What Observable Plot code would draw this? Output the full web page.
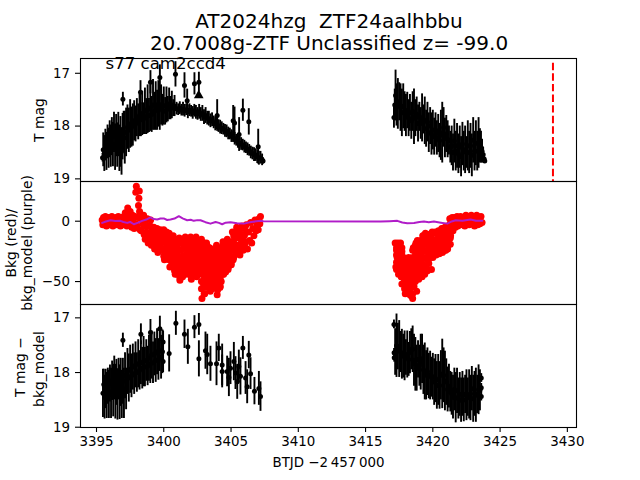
<!DOCTYPE html>
<html>
<head>
<meta charset="utf-8">
<script src="https://cdn.jsdelivr.net/npm/d3@7"></script>
<script src="https://cdn.jsdelivr.net/npm/@observablehq/plot@0.6"></script>
<style>
html,body{margin:0;padding:0;background:#fff;width:640px;height:480px;overflow:hidden;font-family:"DejaVu Sans",sans-serif}
#title{height:58px;width:640px;position:relative}
#title div{position:absolute;left:9px;width:640px;text-align:center;font-size:20px;line-height:20px;color:#000;white-space:pre}
svg{overflow:visible;background:transparent!important;display:block}
</style>
</head>
<body>
<div id="title"><div style="top:11px">AT2024hzg  ZTF24aalhbbu</div><div style="top:33px">20.7008g-ZTF Unclassified z= -99.0</div></div>
<div id="chart"></div>
<script>
const titleLabel = "s77 cam2ccd4";
const xTicks = [3395,3400,3405,3410,3415,3420,3425,3430];
const markerTime = 3428.93;

// top panel: T mag, first orbit and outliers
const magT = [
3395.45,3395.50,3395.58,3395.66,3395.74,3395.82,3395.90,3395.98,3396.06,3396.14,3396.22,3396.30,3396.38,3396.46,3396.54,3396.62,3396.70,3396.78,3396.86,3396.94,
3397.02,3397.10,3397.20,3397.30,3397.40,3397.50,3397.60,3397.70,3397.80,3397.90,3398.00,3398.10,3398.20,3398.30,3398.40,3398.50,3398.60,3398.70,3398.80,3398.90,
3399.00,3399.10,3399.20,3399.30,3399.40,3399.50,3399.60,3399.70,3399.80,3399.90,3400.00,3400.10,3400.20,3400.30,3400.40,3400.50,3400.60,3400.70,3400.80,
3400.95,3401.07,3401.19,3401.31,3401.43,3401.55,3401.67,3401.79,3401.91,3402.03,3402.15,3402.27,3402.39,3402.51,3402.63,3402.75,3402.87,3402.99,3403.11,3403.23,3403.35,
3403.47,3403.59,3403.71,3403.83,3403.95,3404.07,3404.19,3404.31,3404.43,3404.55,3404.67,3404.79,3404.91,3405.03,3405.15,3405.27,3405.39,3405.51,3405.63,3405.75,
3405.87,3405.99,3406.11,3406.23,3406.35,3406.47,3406.59,3406.71,3406.83,3406.95,3407.07,3407.19,3407.31,3407.38,
3396.96,3398.27,3399.01,3399.71,3400.87,3401.54,3401.74,3402.28,3402.61,3403.97,3405.16,3405.26,3405.60,3405.88,3406.32,3407.02,3417.11
];
const magV = [
18.60,18.45,18.52,18.36,18.48,18.30,18.42,18.25,18.38,18.20,18.35,18.12,18.40,18.18,18.36,18.16,18.42,18.30,18.48,18.20,
18.10,18.22,18.12,18.02,18.08,17.96,18.02,17.98,17.90,17.96,17.84,17.92,17.80,17.88,17.76,17.86,17.72,17.82,17.68,17.80,
17.66,17.78,17.60,17.72,17.62,17.70,17.58,17.66,17.60,17.70,17.62,17.72,17.60,17.68,17.58,17.66,17.60,17.66,17.62,
17.67,17.69,17.66,17.70,17.68,17.71,17.69,17.73,17.70,17.72,17.75,17.71,17.74,17.77,17.73,17.78,17.76,17.83,17.80,17.85,17.86,
17.90,17.88,17.93,17.96,17.95,18.00,18.02,18.04,18.06,18.09,18.10,18.14,18.15,18.19,18.20,18.24,18.27,18.30,18.32,18.34,
18.36,18.39,18.41,18.44,18.46,18.50,18.52,18.54,18.55,18.58,18.61,18.60,18.64,18.66,
17.49,17.36,17.17,17.08,17.02,17.23,17.52,17.20,17.17,17.80,17.90,17.94,18.16,17.70,17.92,18.39,17.84
];
const magE = [
0.08,0.32,0.34,0.30,0.36,0.32,0.38,0.35,0.40,0.36,0.42,0.38,0.44,0.40,0.42,0.42,0.44,0.48,0.45,0.44,
0.38,0.50,0.46,0.42,0.42,0.46,0.38,0.40,0.38,0.34,0.36,0.34,0.40,0.32,0.42,0.30,0.44,0.34,0.46,0.32,
0.44,0.34,0.48,0.36,0.46,0.38,0.44,0.42,0.38,0.30,0.36,0.26,0.34,0.24,0.30,0.22,0.26,0.16,0.20,
0.12,0.11,0.12,0.11,0.13,0.12,0.11,0.13,0.12,0.11,0.12,0.12,0.13,0.12,0.14,0.13,0.15,0.14,0.15,0.13,0.14,
0.13,0.13,0.12,0.13,0.12,0.12,0.13,0.12,0.11,0.12,0.12,0.12,0.11,0.12,0.11,0.12,0.11,0.12,0.11,0.12,
0.11,0.12,0.11,0.12,0.11,0.12,0.12,0.13,0.12,0.13,0.13,0.12,0.11,0.06,
0.13,0.22,0.22,0.24,0.24,0.24,0.22,0.21,0.19,0.30,0.29,0.30,0.32,0.21,0.25,0.33,0.20
];
// top panel, second orbit: time, bright and faint end of each error bar
const mag2T = [
3417.17,3417.23,3417.30,3417.40,3417.50,3417.60,3417.70,3417.80,3417.90,3418.00,3418.10,3418.20,3418.30,3418.40,3418.50,3418.60,3418.70,3418.80,3418.90,
3419.00,3419.10,3419.20,3419.30,3419.40,3419.50,3419.60,3419.70,3419.80,3419.90,3420.00,3420.10,3420.20,3420.30,3420.40,3420.50,3420.60,3420.70,3420.80,3420.90,
3421.00,3421.10,3421.20,3421.30,3421.40,3421.50,3421.60,3421.70,3421.80,3421.90,3422.00,3422.10,3422.20,3422.30,3422.40,3422.50,3422.60,3422.70,3422.80,3422.90,
3423.00,3423.10,3423.20,3423.30,3423.40,3423.50,3423.58,3423.66,3423.74,3423.82,3423.86
];
const mag2Top = [
17.30,16.94,17.20,17.10,17.18,17.20,17.30,17.20,17.35,17.40,17.36,17.50,17.40,17.55,17.35,17.30,17.50,17.45,17.60,
17.55,17.65,17.39,17.60,17.45,17.70,17.55,17.75,17.65,17.75,17.70,17.85,17.75,17.90,17.78,17.95,17.70,17.55,17.65,17.85,
17.80,17.90,18.00,18.10,18.00,18.15,17.87,18.10,17.95,18.15,18.00,18.20,17.93,18.10,18.00,18.20,17.90,18.10,17.95,18.15,
17.84,18.10,17.90,18.10,17.84,18.05,18.10,18.25,18.40,18.55,18.62
];
const mag2Bot = [
17.90,17.90,18.00,18.06,17.90,18.10,18.20,18.05,18.10,18.20,18.05,18.20,18.10,18.25,18.10,18.35,18.20,18.10,18.30,
18.10,18.25,18.30,18.15,18.35,18.40,18.30,18.50,18.35,18.55,18.45,18.55,18.40,18.55,18.50,18.60,18.65,18.70,18.40,18.60,
18.50,18.60,18.55,18.70,18.75,18.85,18.70,18.85,18.80,18.90,18.80,18.96,18.75,18.85,18.90,18.80,18.85,18.90,18.80,18.96,
18.70,18.85,18.75,18.85,18.80,18.70,18.70,18.70,18.68,18.70,18.70
];
const triangleT = [3402.6];
const triangleV = [17.42];

// middle panel: background (red) and background model (purple)
const bkgT = [
3395.42,3395.47,3395.52,3395.60,3395.66,3395.74,3395.82,3395.90,3395.98,3396.06,3396.14,3396.22,3396.30,3396.38,3396.46,3396.54,3396.62,3396.70,3396.78,3396.86,3396.94,
3397.02,3397.08,3397.14,3397.20,3397.26,3397.32,3397.38,3397.44,3397.50,3397.56,3397.62,3397.68,3397.74,3397.80,3397.86,3397.90,3397.92,3397.96,3398.02,3398.08,3398.12,3398.15,3398.18,3398.20,3398.24,3398.28,3398.32,3398.38,3398.44,
3398.50,3398.54,3398.58,3398.62,3398.66,3398.72,3398.78,3398.84,3398.90,3398.96,3399.02,3399.08,3399.14,3399.20,3399.26,3399.32,3399.38,3399.44,3399.50,3399.56,3399.62,3399.68,3399.74,3399.80,3399.86,
3400.00,3400.05,3400.10,3400.15,3400.20,3400.25,3400.30,3400.40,3400.45,3400.50,3400.55,3400.60,3400.65,3400.70,3400.80,3400.85,3400.90,3400.95,3401.00,3401.05,3401.10,3401.15,3401.20,3401.25,3401.30,3401.35,3401.40,3401.45,3401.50,
3401.60,3401.65,3401.70,3401.75,3401.80,3401.85,3401.90,3402.00,3402.05,3402.10,3402.15,3402.20,3402.25,3402.30,3402.40,3402.45,3402.50,3402.55,3402.60,3402.65,3402.70,
3402.80,3402.84,3402.88,3402.92,3402.96,3403.00,3403.04,3403.08,3403.12,3403.18,3403.22,3403.26,3403.30,3403.34,3403.38,3403.42,3403.46,
3403.55,3403.60,3403.65,3403.70,3403.75,3403.80,3403.85,3403.92,3403.97,3404.02,3404.07,3404.12,3404.17,3404.22,3404.27,3404.32,
3404.40,3404.45,3404.50,3404.55,3404.60,3404.65,3404.72,3404.78,3404.84,3404.90,3404.96,3405.02,3405.10,3405.16,3405.22,3405.28,3405.34,
3405.42,3405.50,3405.58,3405.66,3405.74,3405.82,3405.90,3405.98,3406.06,3406.14,3406.22,3406.30,3406.38,3406.46,3406.54,3406.62,3406.70,3406.78,3406.86,3406.94,3407.02,3407.08,3407.14,3407.19,
3417.20,3417.25,3417.30,3417.35,3417.40,3417.45,3417.50,3417.55,3417.60,3417.65,3417.70,3417.75,3417.80,3417.85,3417.90,3417.95,3418.00,3418.05,3418.10,3418.15,3418.20,3418.25,3418.30,3418.35,3418.40,3418.45,3418.50,3418.55,3418.60,3418.65,3418.70,3418.75,
3418.80,3418.85,3418.90,3418.95,3419.00,3419.05,3419.10,3419.15,3419.20,3419.25,3419.30,3419.35,3419.40,3419.45,3419.50,3419.55,3419.60,3419.65,3419.70,3419.75,3419.80,3419.85,3419.90,3419.95,3420.00,3420.06,3420.12,3420.18,3420.24,3420.30,3420.36,3420.42,3420.48,3420.54,3420.60,3420.66,3420.72,3420.78,3420.84,3420.90,3420.96,3421.02,3421.08,3421.14,3421.20,3421.26,3421.32,3421.38,3421.44,3421.50,3421.56,3421.62,3421.68,3421.74,3421.80,3421.86,3421.92,3421.98,
3422.06,3422.14,3422.22,3422.30,3422.38,3422.46,3422.54,3422.62,3422.70,3422.78,3422.86,3422.94,3423.02,3423.10,3423.18,3423.26,3423.34,3423.42,3423.50,3423.58,3423.66,3423.74,3423.82
];
const bkgV = [
1,-3,3,-1,4,-4,1,3,-3,-1,4,-4,2,-2,3,-3,4,0,-4,2,-3,
4,-2,7,1,-4,11,5,-3,8,2,-5,5,-1,-6,4,-2,24,29,-4,3,13,19,25,8,-7,2,-8,5,-2,
5,-11,-4,-15,1,-9,2,-18,-4,-12,1,-20,-8,-14,-5,-23,-10,-17,-6,-26,-13,-19,-7,-24,-15,
-7,-32,-14,-24,-9,-20,-29,-10,-38,-16,-30,-22,-35,-12,-15,-44,-25,-36,-19,-30,-42,-14,-49,-24,-35,-43,-18,-30,-40,
-13,-44,-22,-36,-28,-17,-40,-13,-48,-25,-38,-18,-32,-44,-13,-46,-24,-36,-17,-30,-42,
-15,-64,-25,-40,-52,-20,-60,-33,-47,-18,-55,-28,-42,-22,-50,-35,-58,
-23,-56,-32,-47,-27,-40,-52,-20,-61,-30,-45,-25,-55,-36,-50,-42,
-17,-44,-26,-36,-21,-40,-15,-40,-24,-32,-18,-36,-9,-32,-20,-14,-26,
-5,-22,-10,-28,-15,-4,-24,-12,-18,-3,-23,-9,-16,-1,-18,-6,-12,1,-8,-3,-7,2,-2,4,
-18,-38,-24,-30,-18,-44,-28,-36,-18,-46,-25,-35,-30,-42,-50,-60,-32,-55,-42,-48,-30,-60,-38,-50,-62,-44,-64,-22,-54,-34,-46,-18,
-58,-16,-36,-48,-26,-42,-20,-32,-46,-12,-38,-24,-44,-10,-30,-18,-41,-11,-35,-22,-28,-14,-40,-9,-30,-18,-24,-9,-28,-15,-21,-8,-27,-14,-20,-6,-26,-12,-18,-5,-24,-14,-4,-20,-10,2,-12,-5,3,-8,-2,3,-5,1,4,-4,
2,-3,4,0,-3,3,-4,5,-1,4,-3,2,5,-2,4,-4,1,5,-3,3,-2,4,-1
];
// further background samples, listed per cadence: time, then the values read at that time
const bkgExtraT = [
3399.0,3399.2,3399.4,3399.6,3399.8,3400.0,3400.2,3400.4,3400.6,3400.8,3401.0,3401.2,3401.4,3401.6,3401.8,3402.0,3402.2,3402.4,3402.6,3402.8,3403.0,3403.2,3403.4,3403.6,3403.8,3404.0,3404.2,3404.4,3404.6,3404.8,3405.0,3405.2,3405.4,3405.6,3405.8,3406.0,
3417.3,3417.5,3417.7,3417.9,3418.1,3418.3,3418.5,3418.7,3418.9,3419.1,3419.3,3419.5,3419.7,3419.9,3420.1,3420.3,3420.5,3420.7,3420.9,3421.1,3421.3
];
const bkgExtraV = [
[-4,-10,-16],[-8,-14,-20],[-9,-15,-21],[-10,-16,-22],[-12,-18,-24],[-11,-17,-23,-29],[-13,-19,-25,-31],[-14,-20,-26,-32],[-17,-23,-29,-35],[-18,-24,-30,-36,-41],[-20,-26,-32,-38,-44],
[-18,-24,-30,-36,-42,-47],[-17,-23,-29,-35,-41,-46],[-16,-22,-28,-34,-40],[-18,-24,-30,-36,-42],[-16,-22,-28,-34,-40,-45],[-19,-25,-31,-37,-43],[-16,-22,-28,-34,-40,-44],[-18,-24,-30,-36,-42],
[-20,-26,-32,-38,-44,-50,-56],[-18,-24,-30,-36,-42,-48,-54,-60],[-20,-26,-32,-38,-44,-50],[-22,-28,-34,-40,-46,-52],[-26,-32,-38,-44,-50],[-24,-30,-36,-42,-48,-54],[-22,-28,-34,-40,-46,-52,-57],[-24,-30,-36,-42,-48,-54],
[-20,-26,-32,-38,-44],[-18,-24,-30,-36,-42],[-20,-26,-32,-38],[-17,-23,-29,-35],[-12,-18,-24,-30],[-8,-14,-20,-26],[-8,-14,-20,-24],[-6,-12,-18,-23],[-6,-11,-17,-22],
[-22,-28,-34,-40],[-20,-26,-32,-38,-43],[-22,-28,-34,-40,-46,-52],[-32,-38,-44,-50,-56],[-34,-40,-46,-52,-58],[-32,-38,-44,-50,-56,-61],[-24,-30,-36,-42,-48,-54,-60],[-20,-26,-32,-38,-44,-50],[-18,-24,-30,-36,-42,-47],
[-16,-22,-28,-34,-40],[-12,-18,-24,-30,-36,-41],[-13,-19,-25,-31,-37],[-13,-19,-25,-31],[-11,-17,-23,-29],[-10,-16,-22,-28],[-10,-16,-22,-27],[-9,-15,-21,-26],[-8,-14,-20,-25],[-7,-13,-19,-24],[-6,-12,-18,-23],[-2,-8,-14,-19]
];
const modelT = [3395.42,3395.7,3396.04,3396.4,3396.78,3397.0,3397.28,3397.5,3397.77,3398.1,3398.39,3398.7,3399.01,3399.25,3399.51,3399.75,3400.00,3400.25,3400.50,3400.8,3401.12,3401.4,3401.74,3402.0,3402.23,3402.5,3402.73,3403.1,3403.47,3403.85,3404.1,3404.34,3404.6,3404.96,3405.45,3405.95,3406.5,3407.19,3407.40,3416.12,3416.8,3417.36,3417.73,3418.1,3418.60,3419.0,3419.34,3419.7,3420.08,3420.6,3421.08,3421.4,3421.70,3422.2,3422.81,3423.2,3423.68];
const modelV = [-1.4,-0.2,0.8,0.2,0.3,-0.6,-1.4,-0.6,-2.5,-1.2,0.3,1.4,3.1,1.8,1.4,2.2,2.3,1.0,1.4,2.2,4.2,2.4,0.8,1.2,0.3,0.9,0.8,-0.8,-2,-0.6,-1.4,-2.5,-1.2,-0.8,-1.6,-2,-0.6,0.3,0,-0.3,0,0.3,-1.1,-1.6,-1.4,-0.7,-0.3,-0.8,-0.3,-1.2,-2,-0.2,0.8,0.3,1.4,0.4,0.3];

// bottom panel: T mag - bkg_model, first orbit
const subT = [
3395.48,3395.54,3395.60,3395.68,3395.76,3395.84,3395.92,3396.00,3396.08,3396.16,3396.24,3396.32,3396.40,3396.48,3396.56,3396.64,3396.72,3396.80,3396.88,3396.96,
3397.04,3397.12,3397.20,3397.30,3397.40,3397.50,3397.60,3397.70,3397.80,3397.90,3398.00,3398.10,3398.20,3398.30,3398.40,3398.50,3398.60,3398.70,3398.80,3398.90,
3399.00,3399.10,3399.20,3399.30,3399.40,3399.50,3399.60,3399.70,3399.80,3399.90,
3396.96,3398.30,3399.01,3399.71,3399.95,3399.95,3400.40,3400.90,3401.54,3401.79,3402.28,3402.61,3402.61,3403.10,3403.23,3403.47,3403.92,3404.09,3404.34,3404.34,3404.71,3404.84,3404.96,3405.21,3405.33,3405.46,3405.58,3405.70,3405.88,3406.08,3406.20,3406.32,3406.45,3406.74,3407.07,3407.19,
3417.11,3417.12,3417.13,3423.60,3423.60,3423.60
];
const subV = [
18.38,18.22,18.45,18.30,18.42,18.25,18.40,18.20,18.38,18.15,18.33,18.10,18.35,18.18,18.40,18.12,18.36,18.18,18.40,18.16,
18.38,18.06,18.30,17.98,18.10,17.94,18.06,17.90,18.02,17.86,18.00,17.84,17.96,17.82,17.92,17.80,17.90,17.78,17.88,17.74,
17.84,17.68,17.82,17.66,17.78,17.62,17.76,17.60,17.72,17.62,
17.41,17.30,17.27,17.20,17.44,17.80,17.65,17.10,17.30,17.53,17.17,17.12,17.75,17.60,17.67,17.84,17.84,17.55,17.86,17.98,17.98,18.09,17.92,17.80,18.01,18.17,17.89,18.07,17.55,18.10,18.26,17.68,18.02,18.34,18.29,18.44,
17.12,17.64,17.73,18.10,18.28,18.44
];
const subE = [
0.44,0.28,0.40,0.36,0.42,0.33,0.44,0.34,0.46,0.36,0.48,0.40,0.50,0.42,0.47,0.38,0.50,0.44,0.44,0.42,
0.46,0.42,0.38,0.42,0.44,0.44,0.40,0.42,0.38,0.42,0.36,0.44,0.36,0.40,0.38,0.46,0.36,0.38,0.36,0.42,
0.36,0.44,0.38,0.40,0.40,0.42,0.38,0.38,0.40,0.40,
0.13,0.19,0.24,0.23,0.20,0.20,0.34,0.22,0.26,0.32,0.21,0.20,0.33,0.34,0.37,0.32,0.40,0.25,0.38,0.30,0.28,0.35,0.30,0.35,0.30,0.32,0.30,0.34,0.21,0.30,0.31,0.25,0.29,0.25,0.31,0.27,
0.08,0.08,0.08,0.08,0.08,0.08
];
// bottom panel, second orbit: time, bright and faint end of each error bar
const sub2T = [
3417.2,3417.3,3417.4,3417.5,3417.6,3417.7,3417.8,3417.9,3418.0,3418.1,3418.2,3418.3,3418.4,3418.5,3418.6,3418.7,3418.8,3418.9,
3419.0,3419.1,3419.2,3419.3,3419.4,3419.5,3419.6,3419.7,3419.8,3419.9,3420.0,3420.1,3420.2,3420.3,3420.4,3420.5,3420.6,3420.7,3420.8,3420.9,
3421.0,3421.1,3421.2,3421.3,3421.4,3421.5,3421.6,3421.7,3421.8,3421.9,3422.0,3422.1,3422.2,3422.3,3422.4,3422.5,3422.6,3422.7,3422.8,3422.9,
3423.0,3423.1,3423.2,3423.3,3423.4,3423.5
];
const sub2Top = [
17.20,16.93,17.10,17.05,17.25,17.21,17.30,17.24,17.40,17.24,17.45,17.25,17.20,17.15,17.30,17.36,17.50,17.42,
17.50,17.30,17.30,17.50,17.46,17.60,17.55,17.65,17.61,17.72,17.65,17.75,17.67,17.80,17.67,17.80,17.60,17.39,17.55,17.61,
17.75,17.90,17.85,17.98,18.00,18.05,17.92,18.00,17.92,18.10,18.00,18.10,17.98,18.10,18.05,17.95,18.10,17.95,18.05,17.89,
18.05,17.98,17.92,18.05,17.86,17.95
];
const sub2Bot = [
18.05,18.09,17.95,18.09,18.00,18.12,18.10,18.15,18.05,18.10,18.07,18.02,17.95,18.00,18.25,18.34,18.34,18.10,
18.25,18.32,18.20,18.40,18.50,18.50,18.42,18.48,18.50,18.45,18.50,18.60,18.55,18.67,18.60,18.67,18.50,18.66,18.55,18.70,
18.60,18.72,18.65,18.72,18.78,18.85,18.70,18.92,18.75,18.85,18.80,18.91,18.80,18.90,18.75,18.88,18.80,18.85,18.88,18.70,
18.91,18.80,18.91,18.75,18.77,18.70
];

const xDomain = [3393.81, 3430.68];
const W = 640, PANEL = 123, ML = 80, MR = 64;
const fs = 13.4, ls = 13.9;
const err = (T,V,E) => ({
  index: d3.range(T.length),
  x: i => T[i], y: i => V[i], lo: i => V[i]-E[i], hi: i => V[i]+E[i]
});
const band = (T,Top,Bot) => ({
  index: d3.range(T.length),
  x: i => T[i], y: i => (Top[i]+Bot[i])/2, lo: i => Top[i], hi: i => Bot[i]
});
const frame = Plot.frame({stroke:"#000", strokeWidth:1.1});
const yAxis = (ticks,tickFormat) => Plot.axisY({
  ticks, tickSize:5, tickPadding:5.5, fontSize:fs, tickFormat, label:null, strokeWidth:1.1
});
const yLabel = (text,dx,dy=0) => Plot.text([text],{
  frameAnchor:"left", dx, dy, rotate:-90, text:d=>d, fontSize:ls, fill:"#000",
  textAnchor:"middle", lineAnchor:"middle", fontFamily:"DejaVu Sans"
});
const bars = (s,w=1.9) => [
  Plot.ruleX(s.index,{x:s.x,y1:s.lo,y2:s.hi,stroke:"#000",strokeWidth:w,clip:"frame"}),
  Plot.dot(s.index,{x:s.x,y:s.y,r:2.5,fill:"#000",clip:"frame"})
];
const base = (extra) => Object.assign({
  width:W, height:PANEL, marginLeft:ML, marginRight:MR, marginTop:0, marginBottom:0,
  style:{fontFamily:"DejaVu Sans",fontSize:fs+"px",color:"#000"},
  x:{domain:xDomain,axis:null}
}, extra);

const p1 = Plot.plot(base({
  y:{domain:[19.05,16.72]},
  marks:[
    yAxis([17,18,19],d3.format("d")),
    yLabel("T mag",-41),
    bars(err(magT,magV,magE)),
    bars(band(mag2T,mag2Top,mag2Bot)),
    Plot.dot(triangleT,{x:d=>d,y:(d,i)=>triangleV[i],symbol:"triangle",r:3.6,fill:"#000"}),
    Plot.ruleX([markerTime],{x:d=>d,y1:()=>16.81,y2:()=>19.05,stroke:"#ff0000",strokeWidth:2,strokeDasharray:"7.4,3.2"}),
    Plot.text([titleLabel],{x:()=>3395.67,y:()=>16.82,text:d=>d,textAnchor:"start",fontSize:16.6,fill:"#000",fontFamily:"DejaVu Sans"}),
    frame
  ]
}));

const extraT = bkgExtraT.flatMap((t,i)=>bkgExtraV[i].map(()=>t));
const extraV = bkgExtraV.flat();
const p2 = Plot.plot(base({
  y:{domain:[-69,32.9]},
  marks:[
    yAxis([-50,0],d=>d<0?"\u2212"+Math.abs(d):String(d)),
    yLabel("Bkg (red)/",-69),
    yLabel("bkg_model (purple)",-52.5),
    Plot.dot(bkgT,{x:d=>d,y:(d,i)=>bkgV[i],r:3.5,fill:"#ff0000",clip:"frame"}),
    Plot.dot(extraT,{x:d=>d,y:(d,i)=>extraV[i],r:3.5,fill:"#ff0000",clip:"frame"}),
    Plot.line(modelT,{x:d=>d,y:(d,i)=>modelV[i],stroke:"#b01cc8",strokeWidth:2,clip:"frame"}),
    frame
  ]
}));

const p3 = Plot.plot(base({
  height:PANEL+53, marginBottom:53,
  y:{domain:[19.005,16.756]},
  marks:[
    yAxis([17,18,19],d3.format("d")),
    yLabel("T mag \u2212",-59.5,1),
    yLabel("bkg_model",-41,3),
    bars(err(subT,subV,subE)),
    bars(band(sub2T,sub2Top,sub2Bot)),
    Plot.axisX({ticks:xTicks,tickFormat:d3.format("d"),tickSize:5,tickPadding:4,fontSize:fs,
      label:"BTJD \u22122\u2009457\u2009000",labelAnchor:"center",labelArrow:"none",labelOffset:39,strokeWidth:1.1}),
    frame
  ]
}));
const host = document.getElementById("chart");
[p1,p2,p3].forEach(p=>host.appendChild(p));
</script>
</body>
</html>
